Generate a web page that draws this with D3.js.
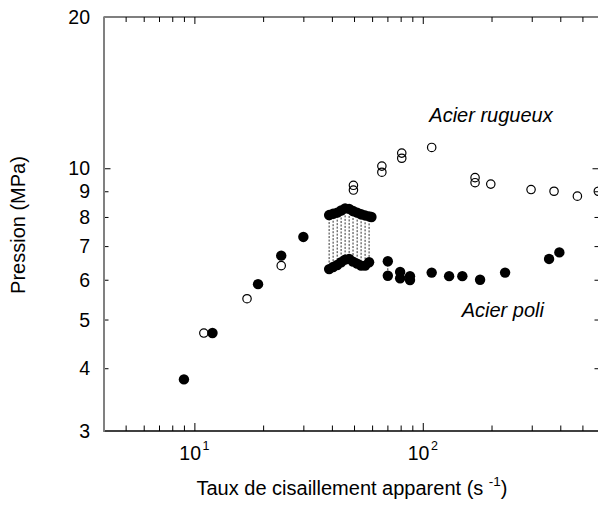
<!DOCTYPE html>
<html><head><meta charset="utf-8">
<script src="https://cdn.jsdelivr.net/npm/d3@7"></script>
<style>body{margin:0;background:#fff;overflow:hidden} svg{display:block;font-family:"Liberation Sans",Arial,sans-serif}</style>
</head><body><svg id="c" width="598" height="506"></svg>
<script>
// ---- data ----
const rugueuxX = [11, 17, 24, 49.7, 49.7, 66.2, 66.2, 80.9, 80.9, 109.4, 169.4, 169.4, 198.5, 297.9, 375.6, 475.3, 587];
const rugueuxY = [4.7, 5.5, 6.4, 9.25, 9.05, 10.1, 9.82, 10.72, 10.47, 11.0, 9.58, 9.36, 9.3, 9.07, 9.0, 8.8, 9.0];
const poliX = [9.0, 12, 19, 24, 30, 59.6, 79.6, 79.6, 87.9, 87.9, 109.4, 130.4, 149, 178.2, 229.3, 357.3, 396.3];
const poliY = [3.8, 4.7, 5.88, 6.7, 7.3, 8.0, 6.22, 6.04, 6.1, 5.99, 6.2, 6.1, 6.1, 6.0, 6.2, 6.6, 6.8];
// paired measurements joined by dashed lines
const pairX = [38.9, 40.5, 42.2, 43.9, 45.7, 47.6, 49.5, 51.6, 53.7, 55.9, 58.2, 70.3];
const pairUpper = [8.07, 8.12, 8.16, 8.24, 8.32, 8.3, 8.22, 8.16, 8.1, 8.06, 8.02, 6.53];
const pairLower = [6.3, 6.36, 6.42, 6.5, 6.58, 6.6, 6.52, 6.46, 6.4, 6.4, 6.5, 6.11];
const xMajorTicks = [10, 100];
const xMinorTicks = [5, 6, 7, 8, 9, 20, 30, 40, 50, 60, 70, 80, 90, 200, 300, 400, 500, 600];
const xTickBase = ["10", "10"];
const xTickExp = ["1", "2"];
const yMajorTicks = [10];
const yMinorTicks = [4, 5, 6, 7, 8, 9];
const yTickLabels = [3, 4, 5, 6, 7, 8, 9, 10, 20];
const labelRugueux = "Acier rugueux";
const labelPoli = "Acier poli";

// ---- layout ----
const L = 103.5, R = 600.5, T = 17, B = 431;
const svg = d3.select("#c");
const x = d3.scaleLog().domain([4, 600]).range([L, R]);
const y = d3.scaleLog().domain([3, 20]).range([B, T]);

function axisGroup(axis, tx, ty) {
  const g = svg.append("g").attr("transform", `translate(${tx},${ty})`).call(axis);
  g.select(".domain").remove();
  g.selectAll(".tick line").attr("stroke", "#000").attr("stroke-width", 1);
  g.selectAll(".tick text").remove();
  return g;
}
// bottom & top ticks (inward)
axisGroup(d3.axisBottom(x).tickValues(xMajorTicks).tickSizeInner(-8).tickSizeOuter(0), 0, B);
axisGroup(d3.axisBottom(x).tickValues(xMinorTicks).tickSizeInner(-5.5).tickSizeOuter(0), 0, B);
axisGroup(d3.axisTop(x).tickValues(xMajorTicks).tickSizeInner(-7).tickSizeOuter(0), 0, T);
axisGroup(d3.axisTop(x).tickValues(xMinorTicks).tickSizeInner(-5).tickSizeOuter(0), 0, T);
// left & right ticks (inward)
axisGroup(d3.axisLeft(y).tickValues(yMajorTicks).tickSizeInner(-7).tickSizeOuter(0), L, 0);
axisGroup(d3.axisLeft(y).tickValues(yMinorTicks).tickSizeInner(-5).tickSizeOuter(0), L, 0);
axisGroup(d3.axisRight(y).tickValues(yMajorTicks).tickSizeInner(-7).tickSizeOuter(0), R - 1, 0);
axisGroup(d3.axisRight(y).tickValues(yMinorTicks).tickSizeInner(-5).tickSizeOuter(0), R - 1, 0);

// axis lines
svg.append("line").attr("x1", L).attr("x2", R).attr("y1", B).attr("y2", B).attr("stroke", "#000").attr("stroke-width", 1.4);
svg.append("line").attr("x1", L).attr("x2", R).attr("y1", T).attr("y2", T).attr("stroke", "#000").attr("stroke-width", 1.2);
svg.append("line").attr("x1", R - 1).attr("x2", R - 1).attr("y1", T).attr("y2", B).attr("stroke", "#000").attr("stroke-width", 1.2);
svg.append("line").attr("x1", L + 0.5).attr("x2", L + 0.5).attr("y1", T).attr("y2", B + 0.7).attr("stroke", "#808080").attr("stroke-width", 2);

// y tick labels
svg.append("g").selectAll("text").data(yTickLabels).join("text")
  .attr("x", 90).attr("y", d => y(d)).attr("dy", "0.36em")
  .attr("text-anchor", "end").attr("font-size", 19.5).attr("fill", "#000")
  .text(d => d);

// x tick labels with superscript exponents
const xl = svg.append("g").selectAll("text").data(xMajorTicks).join("text")
  .attr("x", d => x(d)).attr("y", 460).attr("text-anchor", "middle")
  .attr("font-size", 19.5).attr("fill", "#000");
xl.append("tspan").text((d, i) => xTickBase[i]);
xl.append("tspan").attr("font-size", 12.5).attr("dx", 1.5).attr("dy", -10.4).text((d, i) => xTickExp[i]);

// axis titles
const xt = svg.append("text").attr("x", (L + R) / 2).attr("y", 495).attr("text-anchor", "middle")
  .attr("font-size", 20).attr("fill", "#000");
xt.append("tspan").text("Taux de cisaillement apparent (s ");
xt.append("tspan").attr("font-size", 13.5).attr("dy", -8.7).text("-1");
xt.append("tspan").attr("dy", 8.7).text(")");
svg.append("text").attr("transform", `translate(25,${(T + B) / 2 + 1}) rotate(-90)`)
  .attr("text-anchor", "middle").attr("font-size", 20).attr("fill", "#000").text("Pression (MPa)");

// dashed connectors
svg.append("g").selectAll("line").data(pairX).join("line")
  .attr("x1", d => x(d)).attr("x2", d => x(d))
  .attr("y1", (d, i) => y(pairUpper[i])).attr("y2", (d, i) => y(pairLower[i]))
  .attr("stroke", "#333").attr("stroke-width", 1).attr("stroke-dasharray", "2,1.5");

// open circles (Acier rugueux)
svg.append("g").selectAll("circle").data(rugueuxX).join("circle")
  .attr("cx", d => x(d)).attr("cy", (d, i) => y(rugueuxY[i])).attr("r", 4.2)
  .attr("fill", "none").attr("stroke", "#000").attr("stroke-width", 1.2);

// filled circles (Acier poli)
const filled = svg.append("g");
filled.selectAll("circle.u").data(pairX).join("circle").attr("class", "u")
  .attr("cx", d => x(d)).attr("cy", (d, i) => y(pairUpper[i])).attr("r", 5.2).attr("fill", "#000");
filled.selectAll("circle.l").data(pairX).join("circle").attr("class", "l")
  .attr("cx", d => x(d)).attr("cy", (d, i) => y(pairLower[i])).attr("r", 5.2).attr("fill", "#000");
filled.selectAll("circle.p").data(poliX).join("circle").attr("class", "p")
  .attr("cx", d => x(d)).attr("cy", (d, i) => y(poliY[i])).attr("r", 5.2).attr("fill", "#000");

// series annotations
svg.append("text").attr("x", 429.3).attr("y", 121.7).attr("font-size", 20).attr("font-style", "italic")
  .attr("fill", "#000").text(labelRugueux);
svg.append("text").attr("x", 461.7).attr("y", 317.3).attr("font-size", 20).attr("font-style", "italic")
  .attr("fill", "#000").text(labelPoli);
</script></body></html>
